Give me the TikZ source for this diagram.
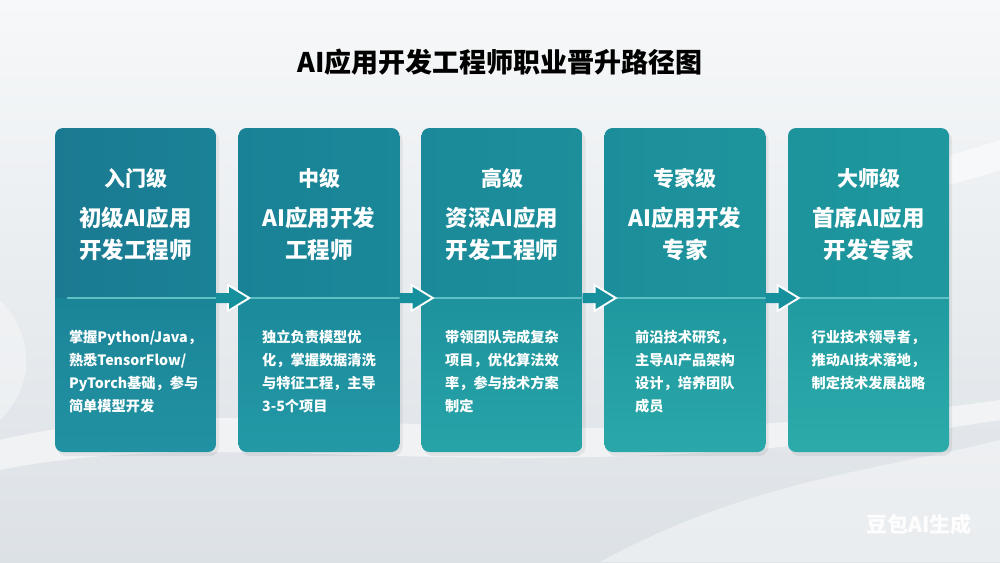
\documentclass[tikz,border=0pt]{standalone}
\usepackage{fontspec}
\setmainfont{Noto Sans CJK SC}
\usetikzlibrary{calc}
\definecolor{bgA}{HTML}{F6F8F9}
\definecolor{bgM}{HTML}{EDF0F3}
\definecolor{bgB}{HTML}{DCE1E6}
\definecolor{arrowc}{HTML}{16909C}
\definecolor{divc}{HTML}{5CC0C4}
\tikzset{
  card/.style={rectangle, minimum width=161pt, minimum height=324pt, inner sep=0pt},
  lvl/.style={font=\fontsize{21}{25}\selectfont\bfseries, text=white},
  role/.style={font=\fontsize{22.5}{32}\selectfont\bfseries, text=white, align=center},
  body/.style={font=\fontsize{14.2}{23}\selectfont\bfseries, text=white, align=left, anchor=north},
}
\newcommand{\drawcard}[5]{% name, x-left, topcolor1, topcolor2, bottomcolor
  \definecolor{tcA}{HTML}{#3}\definecolor{tcB}{HTML}{#4}\definecolor{bcA}{HTML}{#5}
  \fill[black, opacity=0.06, rounded corners=9pt] (#2+2,131) rectangle (#2+164,456);
  \begin{scope}
    \clip[rounded corners=8pt] (#2,128) rectangle (#2+161,452);
    \shade[left color=tcA, right color=tcB] (#2,128) rectangle (#2+161,298);
    \shade[top color=tcB!85!bcA, bottom color=bcA] (#2,298) rectangle (#2+161,452);
  \end{scope}
  \node[card] (#1) at (#2+80.5,290) {};
  \draw[divc, line width=1.3pt] (#2+12,298) -- (#2+161,298);
}
\newcommand{\flowarrow}[1]{% start coordinate name
  \fill[white] ($(#1)+(11,-14.5)$) -- ($(#1)+(35,0)$) -- ($(#1)+(11,14.5)$) -- cycle;
  \fill[arrowc] ($(#1)+(0,-5)$) -- ($(#1)+(13,-5)$) -- ($(#1)+(13,-11)$) -- ($(#1)+(31,0)$) -- ($(#1)+(13,11)$) -- ($(#1)+(13,5)$) -- ($(#1)+(0,5)$) -- cycle;
}
\begin{document}
\begin{tikzpicture}[x=1pt,y=-1pt]
\useasboundingbox (0,0) rectangle (1000,562);
% background
\shade[top color=bgA, middle color=bgM, bottom color=bgB] (0,0) rectangle (1000,562);
\fill[white, opacity=0.5] (0,440) .. controls (250,380) and (500,470) .. (1000,400) -- (1000,420) .. controls (500,500) and (250,420) .. (0,470) -- cycle;
\fill[white, opacity=0.4] (600,562) .. controls (750,480) and (880,470) .. (1000,440) -- (1000,562) -- cycle;
\fill[white, opacity=0.5] (880,180) .. controls (930,160) and (970,150) .. (1000,140) -- (1000,170) .. controls (970,180) and (930,190) .. (880,200) -- cycle;
\fill[white, opacity=0.35] (0,300) .. controls (30,330) and (40,380) .. (0,420) -- cycle;
% title
\node[font=\fontsize{27}{32}\selectfont\bfseries, text=black] (title) at (500,62) {AI应用开发工程师职业晋升路径图};
% cards
\drawcard{c1}{55}{1A7A91}{1A8296}{2192A2}
\drawcard{c2}{238.5}{1A8296}{1A8899}{2399A6}
\drawcard{c3}{421.5}{1B8999}{1C8F9B}{27A4A8}
\drawcard{c4}{604.5}{1C8E9B}{1D949C}{2AA8A9}
\drawcard{c5}{788}{1D939C}{1E989E}{2CABAA}
% arrows
\coordinate (a1) at (c1.east |- 0,298);
\coordinate (a2) at (c2.east |- 0,298);
\coordinate (a3) at (c3.east |- 0,298);
\coordinate (a4) at (c4.east |- 0,298);
\flowarrow{a1}
\flowarrow{a2}
\flowarrow{a3}
\flowarrow{a4}
% texts
\node[lvl] (l1) at (c1.center |- 0,178) {入门级};
\node[lvl] (l2) at (c2.center |- 0,178) {中级};
\node[lvl] (l3) at (c3.center |- 0,178) {高级};
\node[lvl] (l4) at (c4.center |- 0,178) {专家级};
\node[lvl] (l5) at (c5.center |- 0,178) {大师级};
\node[role] (r1) at (c1.center |- 0,234) {初级AI应用\\开发工程师};
\node[role] (r2) at (c2.center |- 0,234) {AI应用开发\\工程师};
\node[role] (r3) at (c3.center |- 0,234) {资深AI应用\\开发工程师};
\node[role] (r4) at (c4.center |- 0,234) {AI应用开发\\专家};
\node[role] (r5) at (c5.center |- 0,234) {首席AI应用\\开发专家};
\node[body] (b1) at (c1.center |- 0,327) {掌握Python/Java，\\熟悉TensorFlow/\\PyTorch基础，参与\\简单模型开发};
\node[body] (b2) at (c2.center |- 0,327) {独立负责模型优\\化，掌握数据清洗\\与特征工程，主导\\3-5个项目};
\node[body] (b3) at (c3.center |- 0,327) {带领团队完成复杂\\项目，优化算法效\\率，参与技术方案\\制定};
\node[body] (b4) at (c4.center |- 0,327) {前沿技术研究，\\主导AI产品架构\\设计，培养团队\\成员};
\node[body] (b5) at (c5.center |- 0,327) {行业技术领导者，\\推动AI技术落地，\\制定技术发展战略};
% watermark
\node[font=\fontsize{21}{24}\selectfont\bfseries, text=white, opacity=0.92] (wm) at (919,524) {豆包AI生成};
\end{tikzpicture}
\end{document}
